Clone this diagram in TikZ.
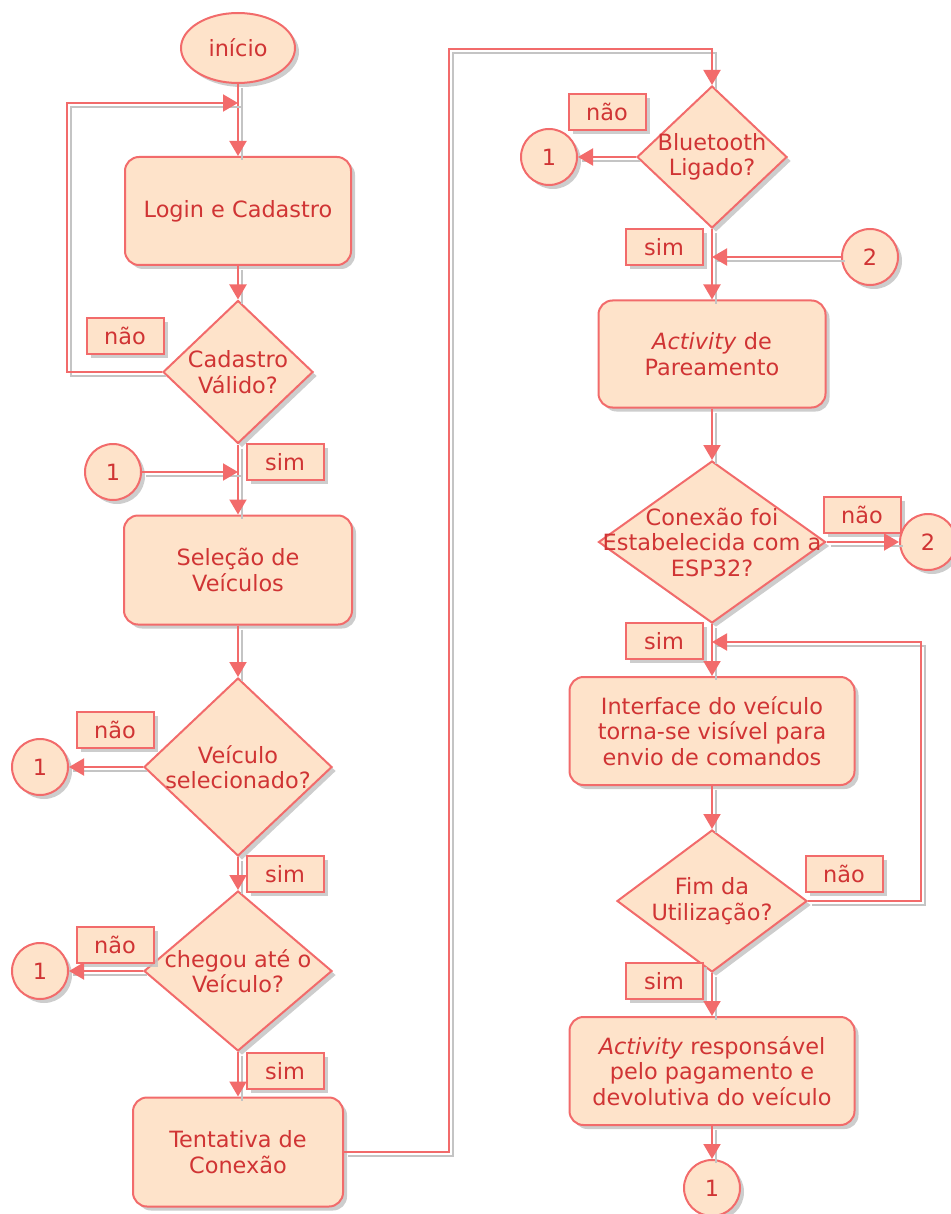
\documentclass[tikz,border=0pt]{standalone}
\usepackage{fontspec}
\setmainfont{DejaVu Sans}
\usetikzlibrary{shapes.geometric,shadows,arrows.meta,calc}
\definecolor{boxfill}{HTML}{FEE3CA}
\definecolor{boxline}{HTML}{F26B6B}
\definecolor{boxtext}{HTML}{D03434}
\definecolor{shade}{HTML}{C4C4C4}

\begin{document}
\begin{tikzpicture}[x=1pt,y=-1pt,
  font=\fontsize{22.4}{25.5}\selectfont,
  base/.style={draw=boxline, line width=2pt, fill=boxfill, text=boxtext,
    drop shadow={shadow xshift=4pt, shadow yshift=-4pt, fill=shade, opacity=0.85}},
  terminal/.style={base, ellipse, minimum width=114pt, minimum height=70pt, inner sep=0pt},
  process/.style={base, rounded corners=14pt, align=center, inner sep=0pt},
  decision/.style={base, diamond, inner sep=0pt},
  dtext/.style={text=boxtext, align=center, inner sep=0pt},
  tag/.style={base, rectangle, minimum width=77pt, minimum height=36pt, inner sep=0pt},
  link/.style={base, circle, minimum size=56pt, inner sep=0pt},
  flow/.style={draw=boxline, line width=2pt, -{Triangle[length=15pt,width=17pt]},
    preaction={draw=shade, line width=1.5pt, -, transform canvas={xshift=4pt,yshift=-4pt}}},
]
\useasboundingbox (0,0) rectangle (950,1214);

% ---------- left column ----------
\node[terminal] (start) at (238,48) {início};
\node[process, minimum width=226pt, minimum height=108pt] (login) at (238,211) {Login e Cadastro};
\node[decision, minimum width=150pt, minimum height=143pt] (valid) at (238,372) {};
\node[dtext] (validtxt) at (valid) {Cadastro\\Válido?};
\coordinate (loopin) at (238,103);
\node[tag] (no1) at (125,336) {não};
\node[tag] (yes1) at (285,462) {sim};
\node[link] (c1a) at (113,472) {1};
\coordinate (merge1) at (238,472);

\node[process, minimum width=228pt, minimum height=109pt] (sel) at (238,570) {Seleção de\\Veículos};
\node[decision, minimum width=188pt, minimum height=178pt] (chosen) at (238,767) {};
\node[dtext] (chosentxt) at (chosen) {Veículo\\selecionado?};
\node[tag] (no2) at (115,730) {não};
\node[link] (c1b) at (40,767) {1};
\node[tag] (yes2) at (285,874) {sim};

\node[decision, minimum width=188pt, minimum height=160pt] (arrived) at (238,971) {};
\node[dtext] (arrivedtxt) at (arrived) {chegou até o\\Veículo?};
\node[tag] (no3) at (115,945) {não};
\node[link] (c1c) at (40,971) {1};
\node[tag] (yes3) at (285,1071) {sim};
\node[process, minimum width=210pt, minimum height=109pt] (attempt) at (238,1152) {Tentativa de\\Conexão};

% ---------- right column ----------
\node[decision, minimum width=150pt, minimum height=142pt] (bt) at (712,157) {};
\node[dtext] (bttxt) at (bt) {Bluetooth\\Ligado?};
\node[tag] (no4) at (607,112) {não};
\node[link] (c1d) at (549,157) {1};
\node[tag] (yes4) at (664,247) {sim};
\node[link] (c2a) at (870,257) {2};
\coordinate (merge2) at (712,257);
\node[process, minimum width=227pt, minimum height=107pt] (pair) at (712,354) {\textit{Activity} de\\Pareamento};

\node[decision, minimum width=227pt, minimum height=162pt] (esp) at (712,542) {};
\node[dtext] (esptxt) at (esp) {Conexão foi\\Estabelecida com a\\ESP32?};
\node[tag] (no5) at (862,515) {não};
\node[link] (c2b) at (928,542) {2};
\node[tag] (yes5) at (664,641) {sim};
\coordinate (merge3) at (712,642);
\node[process, minimum width=285pt, minimum height=108pt] (iface) at (712,731) {Interface do veículo\\torna-se visível para\\envio de comandos};

\node[decision, minimum width=190pt, minimum height=142pt] (done) at (712,901) {};
\node[dtext] (donetxt) at (done) {Fim da\\Utilização?};
\node[tag] (no6) at (844,874) {não};
\node[tag] (yes6) at (664,981) {sim};
\node[process, minimum width=285pt, minimum height=108pt] (pay) at (712,1071) {\textit{Activity} responsável\\pelo pagamento e\\devolutiva do veículo};
\node[link] (c1e) at (712,1188) {1};

% ---------- connectors ----------
\draw[flow] (start.south) -- (login.north);
\draw[flow] (login.south) -- (valid.north);
\draw[flow] (valid.west) -- ++(-95,0) |- (loopin);
\draw[flow] (valid.south) -- (sel.north);
\draw[flow] (c1a.east) -- (merge1);
\draw[flow] (sel.south) -- (chosen.north);
\draw[flow] (chosen.west) -- (c1b.east);
\draw[flow] (chosen.south) -- (arrived.north);
\draw[flow] (arrived.west) -- (c1c.east);
\draw[flow] (arrived.south) -- (attempt.north);
\draw[flow] (attempt.east) -- ++(105,0) |- ($(bt.north)+(0,-36)$) -- (bt.north);
\draw[flow] (bt.west) -- (c1d.east);
\draw[flow] (bt.south) -- (pair.north);
\draw[flow] (c2a.west) -- (merge2);
\draw[flow] (pair.south) -- (esp.north);
\draw[flow] (esp.east) -- (c2b.west);
\draw[flow] (esp.south) -- (iface.north);
\draw[flow] (iface.south) -- (done.north);
\draw[flow] (done.east) -- ++(113,0) |- (merge3);
\draw[flow] (done.south) -- (pay.north);
\draw[flow] (pay.south) -- (c1e.north);
\end{tikzpicture}
\end{document}
